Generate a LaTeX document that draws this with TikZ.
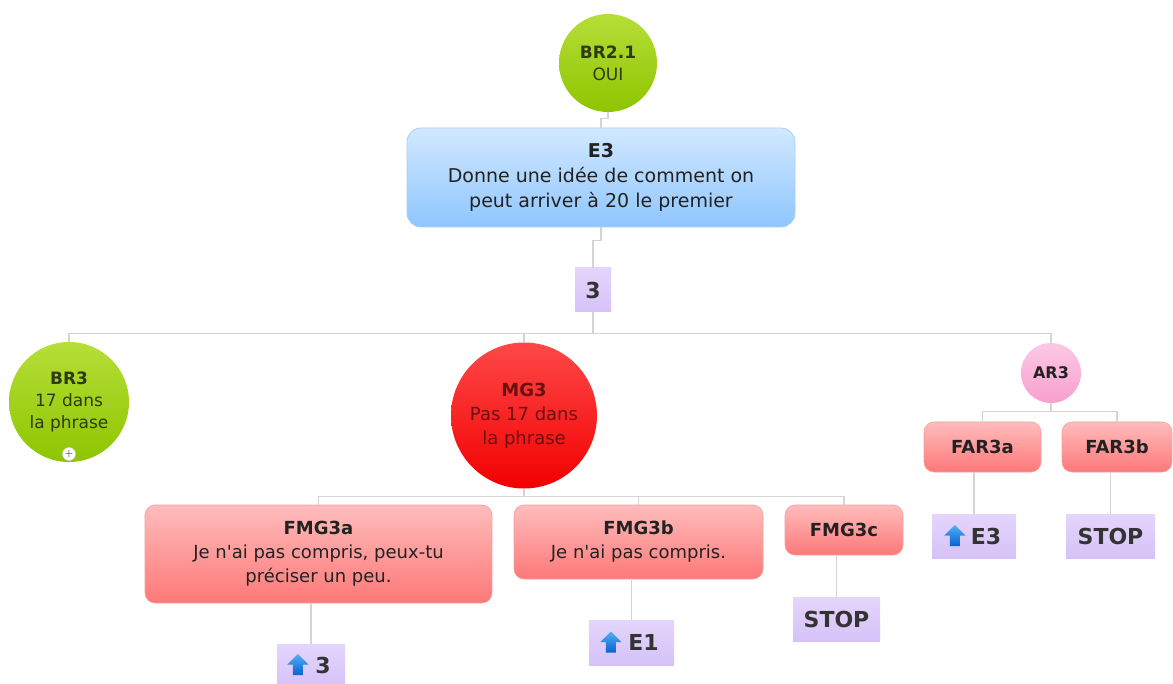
\documentclass[tikz,border=0pt]{standalone}
\usepackage{fontspec}
\setmainfont{DejaVu Sans}
\usetikzlibrary{calc}
\definecolor{conncol}{HTML}{D4D4D4}
\definecolor{txt}{HTML}{222222}
\definecolor{lavtxt}{HTML}{333333}
\definecolor{greentop}{HTML}{B6DE38}
\definecolor{greenbot}{HTML}{8EC500}
\definecolor{greentxt}{HTML}{2E3A10}
\definecolor{bluetop}{HTML}{D2E8FF}
\definecolor{bluebot}{HTML}{8EC6FF}
\definecolor{blueline}{HTML}{A8D0F4}
\definecolor{lavtop}{HTML}{E4D5FC}
\definecolor{lavbot}{HTML}{D6C2F8}
\definecolor{redtop}{HTML}{FF4848}
\definecolor{redbot}{HTML}{F20000}
\definecolor{redtxt}{HTML}{6A1010}
\definecolor{pinktop}{HTML}{FFBCBC}
\definecolor{pinkbot}{HTML}{FD7878}
\definecolor{pinkline}{HTML}{F5A0A0}
\definecolor{artop}{HTML}{FCC8E4}
\definecolor{arbot}{HTML}{F7A0CE}
\definecolor{arrtop}{HTML}{4FB0F5}
\definecolor{arrbot}{HTML}{0A62D0}
\tikzset{
  conn/.style={draw=conncol, line width=1.3pt},
  basetext/.style={text=txt, align=center, font=\fontsize{18}{24}\selectfont, inner sep=0pt},
  greencirc/.style={basetext, circle, top color=greentop, bottom color=greenbot, text=greentxt, font=\fontsize{17}{22}\selectfont},
  bluebox/.style={basetext, rectangle, rounded corners=14pt, top color=bluetop, bottom color=bluebot, draw=blueline, line width=0.8pt, font=\fontsize{19}{25}\selectfont},
  lavbox/.style={basetext, rectangle, top color=lavtop, bottom color=lavbot, text=lavtxt, font=\bfseries\fontsize{22}{26}\selectfont},
  pinkbox/.style={basetext, rectangle, rounded corners=10pt, top color=pinktop, bottom color=pinkbot, draw=pinkline, line width=0.6pt},
  redcirc/.style={basetext, circle, top color=redtop, bottom color=redbot, text=redtxt},
  arcirc/.style={basetext, circle, top color=artop, bottom color=arbot, font=\bfseries\fontsize{16}{20}\selectfont},
}
\newcommand\bluearrow[2]{\shade[top color=arrtop, bottom color=arrbot] ($(#1.west)+(#2,0)$) +(0,-11) -- +(10.5,-0.5) -- +(5,-0.5) -- +(5,10) -- +(-5,10) -- +(-5,-0.5) -- +(-10.5,-0.5) -- cycle;}
\begin{document}
\begin{tikzpicture}[x=1pt, y=-1pt]
\useasboundingbox (0,0) rectangle (1173,684);
% nodes
\node[greencirc, minimum size=98pt] (br21) at (608,63) {\textbf{BR2.1}\\OUI};
\node[bluebox, minimum width=388pt, minimum height=99pt] (e3) at (601,177.5) {\textbf{E3}\\Donne une idée de comment on\\peut arriver à 20 le premier};
\node[lavbox, minimum width=36pt, minimum height=44pt] (b3) at (593,290) {3};
\node[greencirc, minimum size=120pt] (br3) at (69,402) {\textbf{BR3}\\17 dans\\la phrase};
\node[circle, fill=white, draw=conncol, line width=0.5pt, inner sep=0pt, minimum size=13pt, text=gray, font=\fontsize{11}{11}\selectfont] (plus) at (69,454) {+};
\node[redcirc, minimum size=146pt] (mg3) at (524,415.5) {\textbf{MG3}\\Pas 17 dans\\la phrase};
\node[arcirc, minimum size=60pt] (ar3) at (1051,373) {AR3};
\node[pinkbox, minimum width=117pt, minimum height=50pt] (far3a) at (982.5,447) {\textbf{FAR3a}};
\node[pinkbox, minimum width=110pt, minimum height=50pt] (far3b) at (1117,447) {\textbf{FAR3b}};
\node[lavbox, minimum width=84pt, minimum height=44pt] (ue3) at (974,536) {\hspace*{24pt}E3};
\node[lavbox, minimum width=89pt, minimum height=44pt] (stop1) at (1110.5,536) {STOP};
\node[pinkbox, minimum width=347pt, minimum height=98pt] (fmg3a) at (318.5,554) {\textbf{FMG3a}\\Je n\textquotesingle ai pas compris, peux-tu\\préciser un peu.};
\node[pinkbox, minimum width=249pt, minimum height=74pt] (fmg3b) at (638.5,542) {\textbf{FMG3b}\\Je n\textquotesingle ai pas compris.};
\node[pinkbox, minimum width=118pt, minimum height=50pt] (fmg3c) at (844,530) {\textbf{FMG3c}};
\node[lavbox, minimum width=68pt, minimum height=42pt] (u3) at (311,665) {\hspace*{24pt}3};
\node[lavbox, minimum width=85pt, minimum height=45pt] (ue1) at (631.5,642.5) {\hspace*{24pt}E1};
\node[lavbox, minimum width=87pt, minimum height=44pt] (stop2) at (836.5,619) {STOP};
% arrow icons
\bluearrow{ue3}{23}
\bluearrow{u3}{21}
\bluearrow{ue1}{22}
% connectors
\draw[conn] (br21.south) -- ++(0,6) -| (e3.north);
\draw[conn] (e3.south) -- ++(0,13) -| (b3.north);
\draw[conn] (b3.south) -- ++(0,21) coordinate (j1);
\draw[conn] (j1) -| (br3.north);
\draw[conn] (j1) -| (mg3.north);
\draw[conn] (j1) -| (ar3.north);
\draw[conn] (mg3.south) -- ++(0,8) coordinate (j2);
\draw[conn] (j2) -| (fmg3a.north);
\draw[conn] (j2) -| (fmg3b.north);
\draw[conn] (j2) -| (fmg3c.north);
\draw[conn] (ar3.south) -- ++(0,8) coordinate (j3);
\draw[conn] (j3) -| (far3a.north);
\draw[conn] (j3) -| (far3b.north);
\draw[conn] (fmg3a.south -| u3.north) -- (u3.north);
\draw[conn] (fmg3b.south -| ue1.north) -- (ue1.north);
\draw[conn] (fmg3c.south -| stop2.north) -- (stop2.north);
\draw[conn] (far3a.south -| ue3.north) -- (ue3.north);
\draw[conn] (far3b.south -| stop1.north) -- (stop1.north);
\end{tikzpicture}
\end{document}
